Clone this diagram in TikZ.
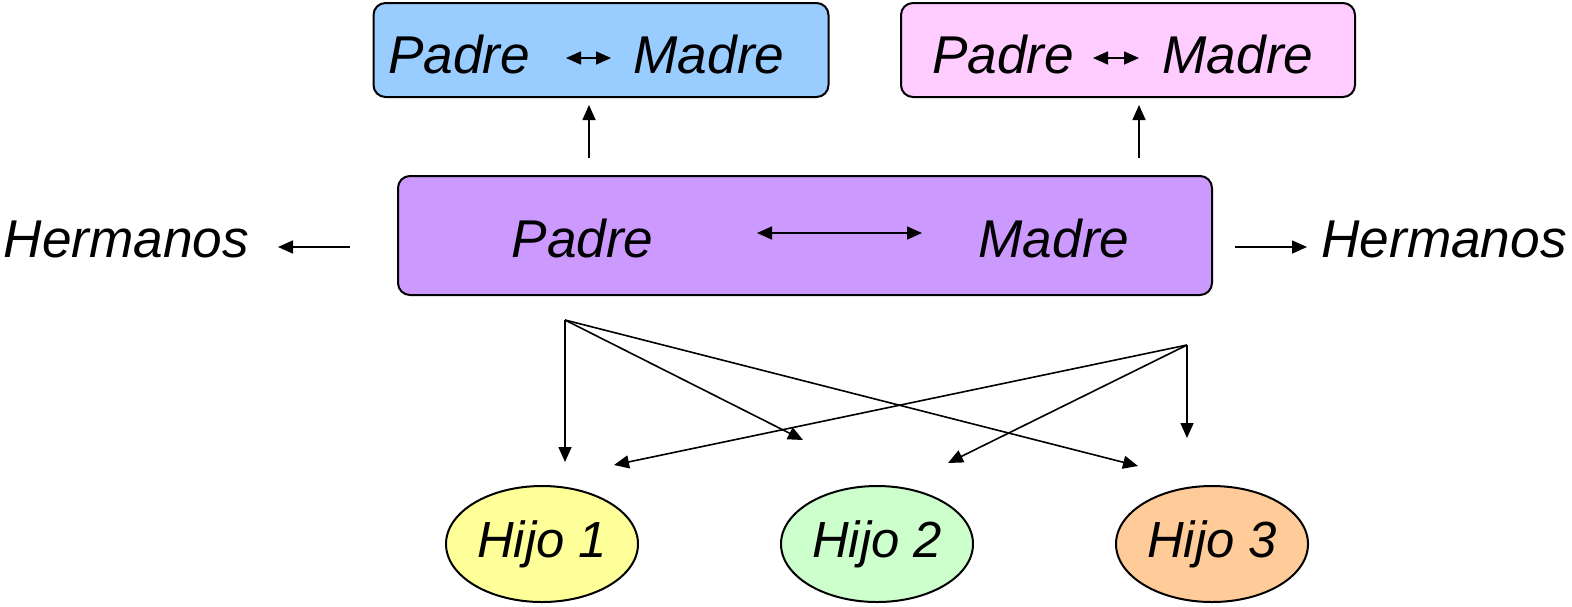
\documentclass[tikz,border=0pt]{standalone}
\usepackage{fontspec}
\setmainfont{Liberation Sans}
\usetikzlibrary{arrows.meta,shapes.geometric}
\definecolor{azul}{HTML}{99CCFF}
\definecolor{rosa}{HTML}{FFCCFF}
\definecolor{lila}{HTML}{CC99FF}
\definecolor{amarillo}{HTML}{FFFF99}
\definecolor{verde}{HTML}{CCFFCC}
\definecolor{naranja}{HTML}{FFCC99}
\tikzset{
  caja/.style={draw, line width=1pt, rounded corners=6pt, inner sep=0pt},
  hijo/.style={draw, ellipse, line width=1pt, minimum width=96pt, minimum height=58pt, inner sep=0pt,
    font=\fontsize{25.4}{30}\selectfont\itshape},
  texto/.style={font=\fontsize{26.6}{31}\selectfont\itshape, inner sep=0pt},
  flecha/.style={-{Triangle[length=7.5pt,width=6.5pt]}, line width=0.8pt},
  doble/.style={{Triangle[length=7.5pt,width=6.5pt]}-{Triangle[length=7.5pt,width=6.5pt]}, line width=0.8pt}
}
\begin{document}
\begin{tikzpicture}[x=0.5pt,y=-0.5pt]
  \useasboundingbox (0,0) rectangle (1572,606);

  % cajas
  \node [caja, fill=azul, minimum width=227.5pt, minimum height=47pt] (abuelosA) at (601,50) {};
  \node [caja, fill=rosa, minimum width=227pt, minimum height=47pt] (abuelosB) at (1128,50) {};
  \node [caja, fill=lila, minimum width=407pt, minimum height=59.5pt] (padres) at (805,235.5) {};

  % textos
  \node [texto, anchor=base] (padreA) at (459,73) {Padre};
  \node [texto, anchor=base] (madreA) at (709,73) {Madre};
  \node [texto, anchor=base] (padreB) at (1003,73) {Padre};
  \node [texto, anchor=base] (madreB) at (1238,73) {Madre};
  \node [texto, anchor=base] (padre) at (582.5,257) {Padre};
  \node [texto, anchor=base] (madre) at (1054,257) {Madre};
  \node [texto, anchor=base] (hermanosA) at (126.5,257) {Hermanos};
  \node [texto, anchor=base] (hermanosB) at (1444,257) {Hermanos};

  % hijos
  \node [hijo, fill=amarillo] (hijo1) at (542,544) {Hijo 1};
  \node [hijo, fill=verde] (hijo2) at (877,544) {Hijo 2};
  \node [hijo, fill=naranja] (hijo3) at (1212,544) {Hijo 3};

  % puntos de las flechas
  \coordinate (a1) at (566,58);   \coordinate (a2) at (611,58);
  \coordinate (b1) at (1093,58);  \coordinate (b2) at (1139,58);
  \coordinate (c1) at (757,233);  \coordinate (c2) at (922,233);
  \coordinate (upA) at (589,158); \coordinate (topA) at (589,105);
  \coordinate (upB) at (1139,158); \coordinate (topB) at (1139,105);
  \coordinate (hA1) at (350,247); \coordinate (hA2) at (278,247);
  \coordinate (hB1) at (1235,247); \coordinate (hB2) at (1307,247);
  \coordinate (p) at (565,320);
  \coordinate (m) at (1187,345);
  \coordinate (p1) at (565,462);  \coordinate (p2) at (803,440);  \coordinate (p3) at (1138,466);
  \coordinate (m3) at (1187,438); \coordinate (m2) at (948,463);  \coordinate (m1) at (614,465);

  % flechas
  \draw [doble] (a1)--(a2);
  \draw [doble] (b1)--(b2);
  \draw [doble] (c1)--(c2);
  \draw [flecha] (upA)--(topA);
  \draw [flecha] (upB)--(topB);
  \draw [flecha] (hA1)--(hA2);
  \draw [flecha] (hB1)--(hB2);
  \draw [flecha] (p)--(p1);
  \draw [flecha] (p)--(p2);
  \draw [flecha] (p)--(p3);
  \draw [flecha] (m)--(m1);
  \draw [flecha] (m)--(m2);
  \draw [flecha] (m)--(m3);

\end{tikzpicture}
\end{document}
